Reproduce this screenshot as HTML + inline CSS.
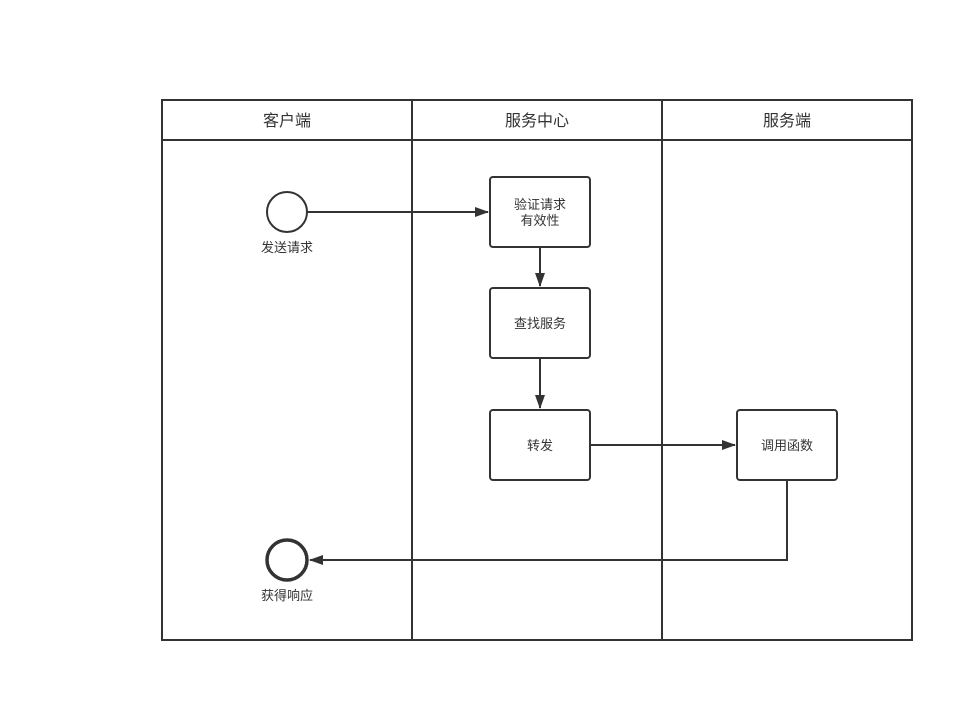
<!DOCTYPE html>
<html><head><meta charset="utf-8"><style>
html,body{margin:0;padding:0;background:#fff;}
svg{display:block;}
text{font-family:"Liberation Sans","Noto Sans CJK SC",sans-serif;fill:#333;}
</style></head><body>
<svg width="974" height="702" viewBox="0 0 974 702" xmlns="http://www.w3.org/2000/svg">
<defs>
<marker id="a" markerWidth="14" markerHeight="10" refX="13" refY="5" orient="auto" markerUnits="userSpaceOnUse">
<path d="M0,0 L14,5 L0,10 Z" fill="#333"/>
</marker>
</defs>
<g stroke="#333" stroke-width="2" fill="none">
<rect x="162" y="100" width="750" height="540"/>
<line x1="162" y1="140" x2="912" y2="140"/>
<line x1="412" y1="100" x2="412" y2="640"/>
<line x1="662" y1="100" x2="662" y2="640"/>
<circle cx="287" cy="212" r="20"/>
<circle cx="287" cy="560" r="20" stroke-width="3.5"/>
<rect x="490" y="177" width="100" height="70" rx="3"/>
<rect x="490" y="288" width="100" height="70" rx="3"/>
<rect x="490" y="410" width="100" height="70" rx="3"/>
<rect x="737" y="410" width="100" height="70" rx="3"/>
<line x1="307" y1="212" x2="488" y2="212" marker-end="url(#a)"/>
<line x1="540" y1="247" x2="540" y2="286" marker-end="url(#a)"/>
<line x1="540" y1="358" x2="540" y2="408" marker-end="url(#a)"/>
<line x1="590" y1="445" x2="735" y2="445" marker-end="url(#a)"/>
<polyline points="787,480 787,560 310,560" marker-end="url(#a)"/>
</g>
<g font-size="16" text-anchor="middle">
<text x="287" y="126">客户端</text>
<text x="537" y="126">服务中心</text>
<text x="787" y="126">服务端</text>
</g>
<g font-size="13" text-anchor="middle">
<text x="287" y="252">发送请求</text>
<text x="287" y="600">获得响应</text>
<text x="540" y="209">验证请求</text>
<text x="540" y="225">有效性</text>
<text x="540" y="328">查找服务</text>
<text x="540" y="450">转发</text>
<text x="787" y="450">调用函数</text>
</g>
</svg>
</body></html>
